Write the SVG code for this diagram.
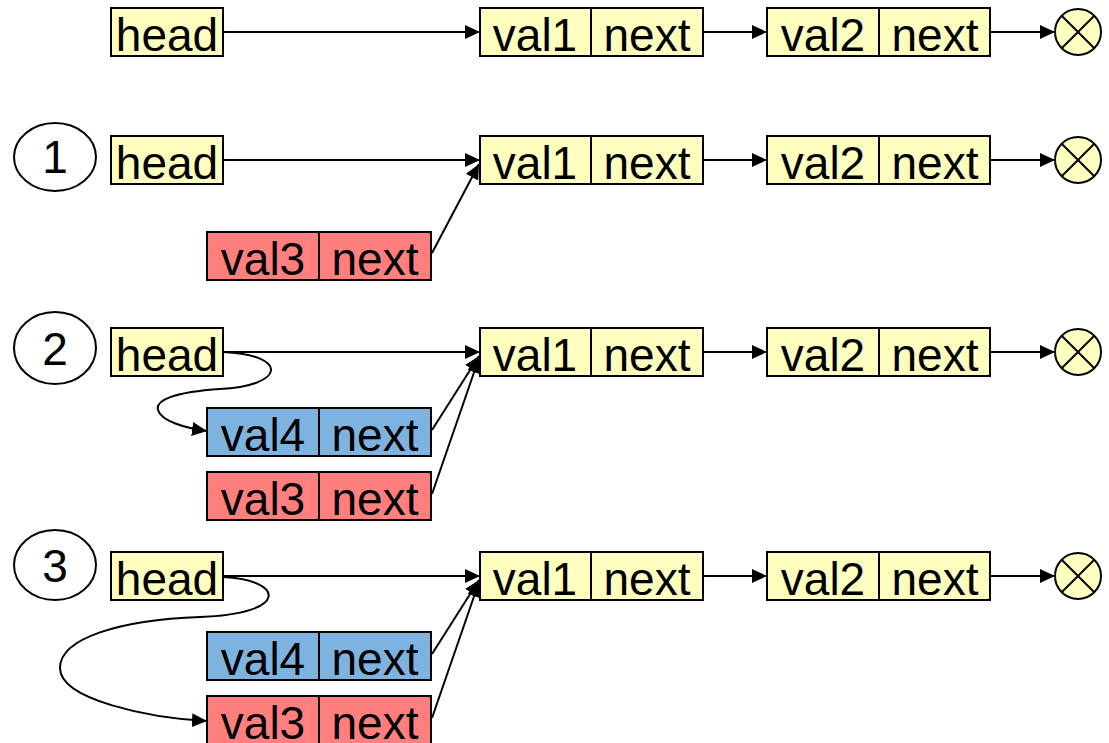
<svg xmlns="http://www.w3.org/2000/svg" width="1109" height="743" viewBox="0 0 1109 743">
<defs>
<style>
.y{fill:#FFFFC0;stroke:#000;stroke-width:2}
.r{fill:#FF7F7F;stroke:#000;stroke-width:2}
.b{fill:#7EB3DF;stroke:#000;stroke-width:2}
.d{stroke:#000;stroke-width:2}
.t{font-family:"Liberation Sans",Arial,sans-serif;font-size:46px;fill:#000;text-anchor:middle}
.c{fill:none;stroke:#000;stroke-width:2}
.e{fill:#FFFFC0;stroke:#000;stroke-width:2}
.n{fill:#fff;stroke:#000;stroke-width:2}
</style>
<marker id="ah" markerUnits="userSpaceOnUse" markerWidth="16" markerHeight="14" refX="15" refY="7" orient="auto">
<path d="M0,0 L15,7 L0,14 Z" fill="#000"/>
</marker>
</defs>

<!-- Row 0 -->
<g id="r0-head"><rect class="y" x="111" y="8" width="112" height="48"/><text class="t" x="167" y="51">head</text></g>
<g id="r0-n1"><rect class="y" x="480" y="8" width="223" height="48"/><line class="d" x1="591" y1="8" x2="591" y2="56"/><text class="t" x="535" y="51">val1</text><text class="t" x="647" y="51">next</text></g>
<g id="r0-n2"><rect class="y" x="767" y="8" width="223" height="48"/><line class="d" x1="879" y1="8" x2="879" y2="56"/><text class="t" x="823" y="51">val2</text><text class="t" x="935" y="51">next</text></g>
<g id="r0-null"><circle class="e" cx="1078" cy="32" r="23"/><path class="d" d="M1061.7,15.7 L1094.3,48.3 M1094.3,15.7 L1061.7,48.3"/></g>

<!-- Row 1 -->
<g id="step1"><ellipse class="n" cx="55" cy="157" rx="41" ry="34"/><text class="t" x="55" y="173">1</text></g>
<g id="r1-head"><rect class="y" x="111" y="136" width="112" height="48"/><text class="t" x="167" y="179">head</text></g>
<g id="r1-n1"><rect class="y" x="480" y="136" width="223" height="48"/><line class="d" x1="591" y1="136" x2="591" y2="184"/><text class="t" x="535" y="179">val1</text><text class="t" x="647" y="179">next</text></g>
<g id="r1-n2"><rect class="y" x="767" y="136" width="223" height="48"/><line class="d" x1="879" y1="136" x2="879" y2="184"/><text class="t" x="823" y="179">val2</text><text class="t" x="935" y="179">next</text></g>
<g id="r1-null"><circle class="e" cx="1078" cy="160" r="23"/><path class="d" d="M1061.7,143.7 L1094.3,176.3 M1094.3,143.7 L1061.7,176.3"/></g>
<g id="r1-n3"><rect class="r" x="207" y="232" width="224" height="48"/><line class="d" x1="319" y1="232" x2="319" y2="280"/><text class="t" x="263" y="275">val3</text><text class="t" x="375" y="275">next</text></g>

<!-- Row 2 -->
<g id="step2"><ellipse class="n" cx="55" cy="348" rx="41" ry="36"/><text class="t" x="55" y="365">2</text></g>
<g id="r2-head"><rect class="y" x="111" y="328" width="112" height="48"/><text class="t" x="167" y="371">head</text></g>
<g id="r2-n1"><rect class="y" x="480" y="328" width="223" height="48"/><line class="d" x1="591" y1="328" x2="591" y2="376"/><text class="t" x="535" y="371">val1</text><text class="t" x="647" y="371">next</text></g>
<g id="r2-n2"><rect class="y" x="767" y="328" width="223" height="48"/><line class="d" x1="879" y1="328" x2="879" y2="376"/><text class="t" x="823" y="371">val2</text><text class="t" x="935" y="371">next</text></g>
<g id="r2-null"><circle class="e" cx="1078" cy="352" r="23"/><path class="d" d="M1061.7,335.7 L1094.3,368.3 M1094.3,335.7 L1061.7,368.3"/></g>
<g id="r2-n4"><rect class="b" x="207" y="408" width="224" height="48"/><line class="d" x1="319" y1="408" x2="319" y2="456"/><text class="t" x="263" y="451">val4</text><text class="t" x="375" y="451">next</text></g>
<g id="r2-n3"><rect class="r" x="207" y="472" width="224" height="48"/><line class="d" x1="319" y1="472" x2="319" y2="520"/><text class="t" x="263" y="515">val3</text><text class="t" x="375" y="515">next</text></g>

<!-- Row 3 -->
<g id="step3"><ellipse class="n" cx="55" cy="565" rx="41" ry="35"/><text class="t" x="55" y="582">3</text></g>
<g id="r3-head"><rect class="y" x="111" y="552" width="112" height="48"/><text class="t" x="167" y="595">head</text></g>
<g id="r3-n1"><rect class="y" x="480" y="552" width="223" height="48"/><line class="d" x1="591" y1="552" x2="591" y2="600"/><text class="t" x="535" y="595">val1</text><text class="t" x="647" y="595">next</text></g>
<g id="r3-n2"><rect class="y" x="767" y="552" width="223" height="48"/><line class="d" x1="879" y1="552" x2="879" y2="600"/><text class="t" x="823" y="595">val2</text><text class="t" x="935" y="595">next</text></g>
<g id="r3-null"><circle class="e" cx="1078" cy="576" r="23"/><path class="d" d="M1061.7,559.7 L1094.3,592.3 M1094.3,559.7 L1061.7,592.3"/></g>
<g id="r3-n4"><rect class="b" x="207" y="632" width="224" height="48"/><line class="d" x1="319" y1="632" x2="319" y2="680"/><text class="t" x="263" y="675">val4</text><text class="t" x="375" y="675">next</text></g>
<g id="r3-n3"><rect class="r" x="207" y="696" width="224" height="48"/><line class="d" x1="319" y1="696" x2="319" y2="744"/><text class="t" x="263" y="739">val3</text><text class="t" x="375" y="739">next</text></g>

<g id="connectors" class="c">
<path marker-end="url(#ah)" d="M223,32 H480"/>
<path marker-end="url(#ah)" d="M703,32 H767"/>
<path marker-end="url(#ah)" d="M990,32 H1055"/>

<path marker-end="url(#ah)" d="M223,160 H480"/>
<path marker-end="url(#ah)" d="M703,160 H767"/>
<path marker-end="url(#ah)" d="M990,160 H1055"/>
<path marker-end="url(#ah)" d="M432,253 L479,164"/>

<path marker-end="url(#ah)" d="M223,352 H480"/>
<path marker-end="url(#ah)" d="M703,352 H767"/>
<path marker-end="url(#ah)" d="M990,352 H1055"/>
<path marker-end="url(#ah)" d="M432,430 L479,356"/>
<path marker-end="url(#ah)" d="M432,494 L479,358"/>
<path marker-end="url(#ah)" d="M223,352 C290,355 285,386 220,389 C175,392 155,400 158,410 C161,421 185,428 207,431"/>

<path marker-end="url(#ah)" d="M223,576 H480"/>
<path marker-end="url(#ah)" d="M703,576 H767"/>
<path marker-end="url(#ah)" d="M990,576 H1055"/>
<path marker-end="url(#ah)" d="M432,654 L479,580"/>
<path marker-end="url(#ah)" d="M432,718 L479,582"/>
<path marker-end="url(#ah)" d="M223,577 C285,580 290,614 200,617 C120,620 60,638 60,668 C60,700 150,718 207,721"/>
</g>
</svg>
